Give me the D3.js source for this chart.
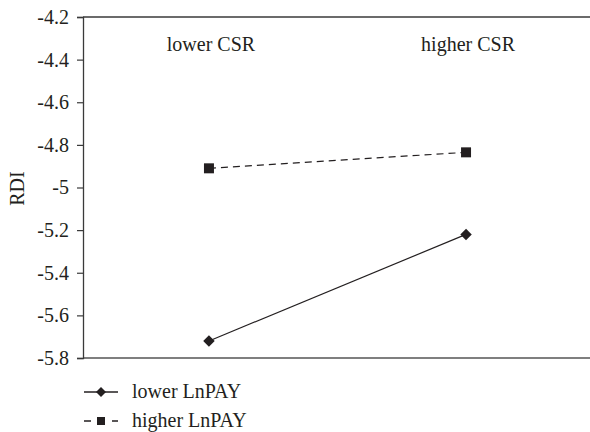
<!DOCTYPE html>
<html lang="en">
<head>
<meta charset="UTF-8">
<title>RDI interaction</title>
<style>
    body { margin: 0; background: #fff; }
    svg { display: block; font-family: "Liberation Serif", "DejaVu Serif", serif; }
    svg text { font-family: "Liberation Serif", "DejaVu Serif", serif !important; }
</style>
</head>
<body>
<svg id="chart" width="590" height="432"></svg>
<script src="https://d3js.org/d3.v7.min.js"></script>
<script>
const categories = ['lower CSR', 'higher CSR'];
const seriesNames = ['lower LnPAY', 'higher LnPAY'];
const lowerPay = [-5.72, -5.22];
const higherPay = [-4.91, -4.835];
const yTicks = [-4.2, -4.4, -4.6, -4.8, -5, -5.2, -5.4, -5.6, -5.8];

const svg = d3.select('#chart');
const ink = '#231f20';
const plotLeft = 83, plotRight = 592, plotTop = 17, plotBottom = 358;

const x = d3.scalePoint().domain(categories).range([plotLeft, plotRight]).padding(0.49);
const y = d3.scaleLinear().domain([-5.8, -4.2]).range([plotBottom, plotTop]);

// frame lines top and bottom
svg.append('line').attr('x1', plotLeft).attr('x2', 590).attr('y1', plotTop).attr('y2', plotTop)
    .attr('stroke', '#3a3a3a').attr('stroke-width', 1.3);
svg.append('line').attr('x1', plotLeft).attr('x2', 590).attr('y1', plotBottom).attr('y2', plotBottom)
    .attr('stroke', '#555').attr('stroke-width', 1.3);

const yAxis = svg.append('g')
    .attr('transform', `translate(${plotLeft},0)`)
    .call(d3.axisLeft(y).tickValues(yTicks).tickSize(6).tickPadding(8).tickFormat(d => String(d)));
yAxis.selectAll('.tick text').style('font-size', '20px').attr('fill', ink);
yAxis.select('.domain').attr('stroke', '#3a3a3a').attr('stroke-width', 1.3);
yAxis.selectAll('.tick line').attr('stroke', '#3a3a3a').attr('stroke-width', 1.2);

svg.append('text')
    .attr('transform', `translate(24,${y(-5) + 1}) rotate(-90)`)
    .attr('text-anchor', 'middle')
    .attr('font-size', 20)
    .attr('fill', ink)
    .text('RDI');

// category labels at top
svg.selectAll('.cat').data(categories).enter().append('text')
    .attr('class', 'cat')
    .attr('x', d => x(d) + 2)
    .attr('y', 51)
    .attr('text-anchor', 'middle')
    .attr('font-size', 20)
    .attr('fill', ink)
    .text(d => d);

const line = d3.line().x((d, i) => x(categories[i])).y(d => y(d));
const diamond = d3.symbol().type(d3.symbolSquare).size(66);
const square = d3.symbol().type(d3.symbolSquare).size(100);

svg.append('path').attr('d', line(lowerPay))
    .attr('fill', 'none').attr('stroke', ink).attr('stroke-width', 1.2);
svg.append('path').attr('d', line(higherPay))
    .attr('fill', 'none').attr('stroke', ink).attr('stroke-width', 1.2)
    .attr('stroke-dasharray', '7,5');

svg.selectAll('.dia').data(lowerPay).enter().append('path')
    .attr('d', diamond)
    .attr('transform', (d, i) => `translate(${x(categories[i])},${y(d)}) rotate(45)`)
    .attr('fill', ink);
svg.selectAll('.sq').data(higherPay).enter().append('path')
    .attr('d', square)
    .attr('transform', (d, i) => `translate(${x(categories[i])},${y(d)})`)
    .attr('fill', ink);

// legend
const legend = svg.append('g');
const rows = [
    {name: seriesNames[0], dash: null, sym: d3.symbol().type(d3.symbolSquare).size(50), rot: 45, yy: 392},
    {name: seriesNames[1], dash: '7,21', sym: d3.symbol().type(d3.symbolSquare).size(64), rot: 0, yy: 421}
];
rows.forEach(r => {
    legend.append('line')
        .attr('x1', 84).attr('x2', 118).attr('y1', r.yy).attr('y2', r.yy)
        .attr('stroke', ink).attr('stroke-width', 1.3)
        .attr('stroke-dasharray', r.dash);
    legend.append('path').attr('d', r.sym())
        .attr('transform', `translate(101,${r.yy}) rotate(${r.rot})`)
        .attr('fill', ink);
    legend.append('text')
        .attr('x', 132).attr('y', r.yy + 6)
        .attr('font-size', 20).attr('fill', ink)
        .text(r.name);
});
</script>
</body>
</html>
